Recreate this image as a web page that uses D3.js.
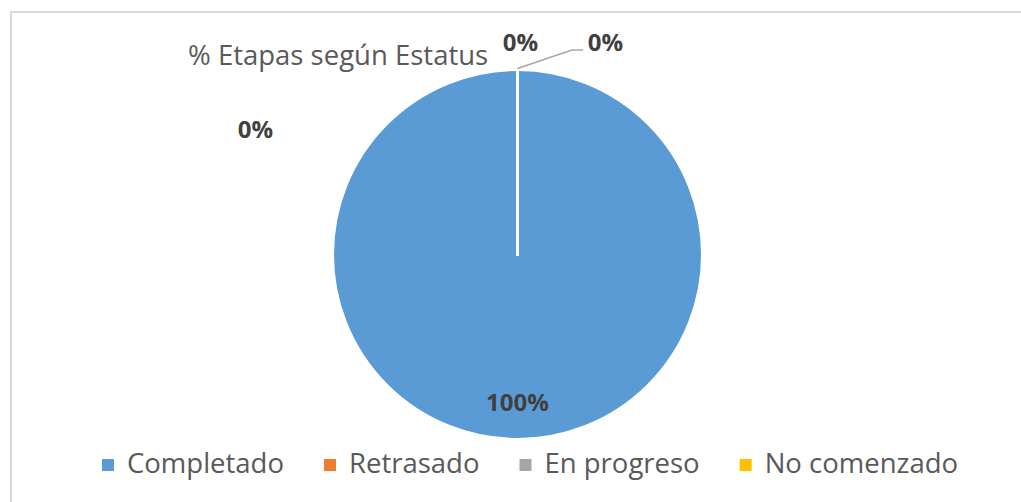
<!DOCTYPE html>
<html>
<head>
<meta charset="utf-8">
<script src="https://cdn.jsdelivr.net/npm/d3@7"></script>
<style>
  html, body { margin: 0; padding: 0; background: #ffffff; }
  svg { display: block; }
</style>
</head>
<body>
<svg id="chart" width="1021" height="502"></svg>
<script>
// ---- data ----
const categories = ["Completado", "Retrasado", "En progreso", "No comenzado"];
const values = [100, 0, 0, 0];
const valueLabels = ["100%", "0%", "0%", "0%"];
const colors = ["#5b9bd5", "#ed7d31", "#a5a5a5", "#ffc000"];
const title = "% Etapas según Estatus";

// ---- layout ----
const W = 1021, H = 502;
const cx = 517.5, cy = 254.5, R = 185;
const font = "'Open Sans', 'Noto Sans', sans-serif";
// label offsets relative to pie centre (Excel manual placement)
const labelOffsets = [null, [-262, -124.5], [3, -211.5], [88, -211.5]];

const svg = d3.select("#chart");

// chart border (top + left visible)
svg.append("rect")
  .attr("x", 11).attr("y", 12)
  .attr("width", W + 20).attr("height", H + 20)
  .attr("fill", "#ffffff")
  .attr("stroke", "#d9d9d9").attr("stroke-width", 2);

// title
svg.append("text")
  .attr("x", 188).attr("y", 65)
  .attr("font-family", font).attr("font-size", 27.5)
  .attr("fill", "#595959")
  .text(title);

// pie
const pie = d3.pie().sort(null).value(d => d.v);
const arcs = pie(categories.map((c, i) => ({ c, v: values[i], i })));
const arc = d3.arc().innerRadius(0).outerRadius(R);
const g = svg.append("g").attr("transform", `translate(${cx},${cy})`);

g.selectAll("path.slice")
  .data(arcs)
  .join("path")
  .attr("class", "slice")
  .attr("d", arc)
  .attr("fill", d => colors[d.data.i])
  .attr("stroke", "#ffffff")
  .attr("stroke-width", 3)
  .attr("stroke-linejoin", "round");

// leader line for last label
const last = arcs[3];
const edge = d3.arc().innerRadius(R).outerRadius(R).centroid(last);
const lo = labelOffsets[3];
g.append("polyline")
  .attr("points", [[edge[0], edge[1] - 1], [lo[0] - 33.5, lo[1] + 7], [lo[0] - 22.5, lo[1] + 7]].map(p => p.join(",")).join(" "))
  .attr("fill", "none")
  .attr("stroke", "#a6a6a6")
  .attr("stroke-width", 1.5);

// value labels
const labelArc = d3.arc().innerRadius(R * 0.8).outerRadius(R * 0.8);
g.selectAll("text.val")
  .data(arcs)
  .join("text")
  .attr("class", "val")
  .attr("x", d => labelOffsets[d.data.i] ? labelOffsets[d.data.i][0] : labelArc.centroid(d)[0])
  .attr("y", d => (labelOffsets[d.data.i] ? labelOffsets[d.data.i][1] : labelArc.centroid(d)[1]) + 8)
  .attr("text-anchor", "middle")
  .attr("font-family", font).attr("font-size", 24).attr("font-weight", "bold")
  .attr("fill", "#404040")
  .text(d => valueLabels[d.data.i]);

// legend
const legend = svg.append("g");
let x = 102;
categories.forEach((c, i) => {
  legend.append("rect")
    .attr("x", x).attr("y", 459)
    .attr("width", 12).attr("height", 12)
    .attr("fill", colors[i]);
  const t = legend.append("text")
    .attr("x", x + 25).attr("y", 473)
    .attr("font-family", font).attr("font-size", 27.5)
    .attr("fill", "#595959")
    .text(c);
  x += 25 + t.node().getComputedTextLength() + 40;
});
</script>
</body>
</html>
